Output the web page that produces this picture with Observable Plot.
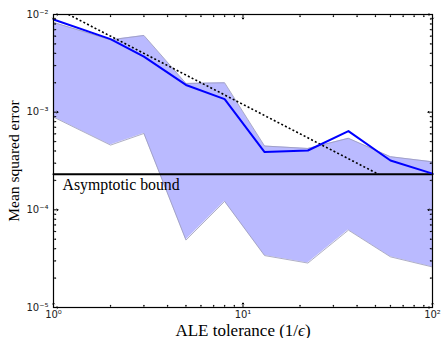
<!DOCTYPE html>
<html>
<head>
<meta charset="utf-8">
<script src="https://cdn.jsdelivr.net/npm/d3@7"></script>
<script src="https://cdn.jsdelivr.net/npm/@observablehq/plot@0.6"></script>
<style>
  html, body { margin: 0; padding: 0; background: #fff; }
</style>
</head>
<body>
<div id="chart"></div>
<script>
// ---- data ----
const tolerance = [1, 2, 3, 5, 8, 13, 22, 36, 60, 100];
const mse       = [8.9e-3, 5.6e-3, 3.7e-3, 1.9e-3, 1.36e-3, 3.9e-4, 4.05e-4, 6.4e-4, 3.2e-4, 2.35e-4];
const upper     = [8.3e-3, 5.5e-3, 6.1e-3, 1.97e-3, 2.0e-3, 4.5e-4, 4.25e-4, 5.4e-4, 3.5e-4, 3.1e-4];
const lower     = [8.9e-4, 4.6e-4, 6.05e-4, 4.9e-5, 1.22e-4, 3.4e-5, 2.85e-5, 6.2e-5, 3.3e-5, 2.6e-5];
const dottedX   = [1, 52];
const dottedY   = [0.012, 2.31e-4];
const boundX    = [1, 100];
const boundY    = [2.31e-4, 2.31e-4];
const boundLabel = "Asymptotic bound";
const xLabel = "ALE tolerance (1/ϵ)";
const yLabel = "Mean squared error";
const xMajor = [1, 10, 100];
const xMajorLabels = ["10⁰", "10¹", "10²"];
const yMajor = [1e-5, 1e-4, 1e-3, 1e-2];
const yMajorLabels = ["10⁻⁵", "10⁻⁴", "10⁻³", "10⁻²"];
const xMinor = [2, 3, 4, 5, 6, 7, 8, 9, 20, 30, 40, 50, 60, 70, 80, 90];
const yMinor = [2e-5,3e-5,4e-5,5e-5,6e-5,7e-5,8e-5,9e-5,2e-4,3e-4,4e-4,5e-4,6e-4,7e-4,8e-4,9e-4,2e-3,3e-3,4e-3,5e-3,6e-3,7e-3,8e-3,9e-3];

const table = tolerance.map((x, i) => ({x, mse: mse[i], upper: upper[i], lower: lower[i]}));
const dotted = dottedX.map((x, i) => ({x, y: dottedY[i]}));
const bound = boundX.map((x, i) => ({x, y: boundY[i]}));
const X0 = 1, X1 = 100, Y0 = 1e-5, Y1 = 1e-2;

const tickMarks = (xs, ys, len, w) => [
  Plot.vectorY(xs, {x: d => d, y: Y0, length: len, anchor: "start", rotate: 0, stroke: "black", strokeWidth: w}),
  Plot.vectorY(xs, {x: d => d, y: Y1, length: len, anchor: "start", rotate: 180, stroke: "black", strokeWidth: w}),
  Plot.vectorX(ys, {y: d => d, x: X0, length: len, anchor: "start", rotate: 90, stroke: "black", strokeWidth: w}),
  Plot.vectorX(ys, {y: d => d, x: X1, length: len, anchor: "start", rotate: -90, stroke: "black", strokeWidth: w})
];

const chart = Plot.plot({
  width: 441,
  height: 338,
  marginLeft: 53,
  marginRight: 9,
  marginTop: 14,
  marginBottom: 31,
  style: {background: "white", overflow: "visible"},
  x: {type: "log", domain: [X0, X1], axis: null},
  y: {type: "log", domain: [Y0, Y1], axis: null},
  marks: [
    Plot.areaY(table, {x: "x", y1: "lower", y2: "upper", fill: "#babaff", curve: "linear"}),
    Plot.line(table, {x: "x", y: "upper", stroke: "#9b9bb8", strokeWidth: 0.8}),
    Plot.line(table, {x: "x", y: "lower", stroke: "#9b9bb8", strokeWidth: 0.8}),
    Plot.line(dotted, {x: "x", y: "y", stroke: "black", strokeWidth: 1.6, strokeDasharray: "2,2.2", strokeLinecap: "butt", clip: true}),
    Plot.line(bound, {x: "x", y: "y", stroke: "black", strokeWidth: 2}),
    Plot.line(table, {x: "x", y: "mse", stroke: "#0000ff", strokeWidth: 2}),
    Plot.text([boundLabel], {x: X0, y: boundY[0], text: d => d, textAnchor: "start", lineAnchor: "middle", dx: 9, dy: 11,
      fontFamily: "Liberation Serif", fontSize: 15.8, fill: "black"}),
    Plot.frame({stroke: "black", strokeWidth: 1.2}),
    ...tickMarks(xMajor, yMajor, 4.5, 1),
    ...tickMarks(xMinor, yMinor, 2.2, 0.8),
    Plot.axisX(xMajor, {anchor: "bottom", tickSize: 0, tickPadding: 3, tickFormat: (d, i) => xMajorLabels[xMajor.indexOf(d)],
      fontFamily: "DejaVu Sans", fontSize: 10, fill: "#222", label: null}),
    Plot.axisY(yMajor, {anchor: "left", tickSize: 0, tickPadding: 5, tickFormat: (d) => yMajorLabels[yMajor.indexOf(d)],
      fontFamily: "DejaVu Sans", fontSize: 10, fill: "#222", label: null}),
    Plot.text([xLabel], {frameAnchor: "bottom", textAnchor: "middle", lineAnchor: "bottom", dy: 28,
      fontFamily: "Liberation Serif", fontSize: 17, fill: "black", className: "xlab"}),
    Plot.text([yLabel], {frameAnchor: "left", textAnchor: "middle", rotate: -90, dx: -39,
      fontFamily: "Liberation Serif", fontSize: 15.5, fill: "black"})
  ]
});
document.getElementById("chart").appendChild(chart);

// italic epsilon in the x label
const xl = chart.querySelector(".xlab text");
if (xl) {
  const s = xl.textContent;
  const k = s.indexOf("ϵ");
  xl.textContent = "";
  const ns = "http://www.w3.org/2000/svg";
  const a = document.createElementNS(ns, "tspan"); a.textContent = s.slice(0, k);
  const b = document.createElementNS(ns, "tspan"); b.textContent = "ϵ"; b.setAttribute("font-style", "italic");
  const c = document.createElementNS(ns, "tspan"); c.textContent = s.slice(k + 1);
  xl.append(a, b, c);
}
</script>
</body>
</html>
